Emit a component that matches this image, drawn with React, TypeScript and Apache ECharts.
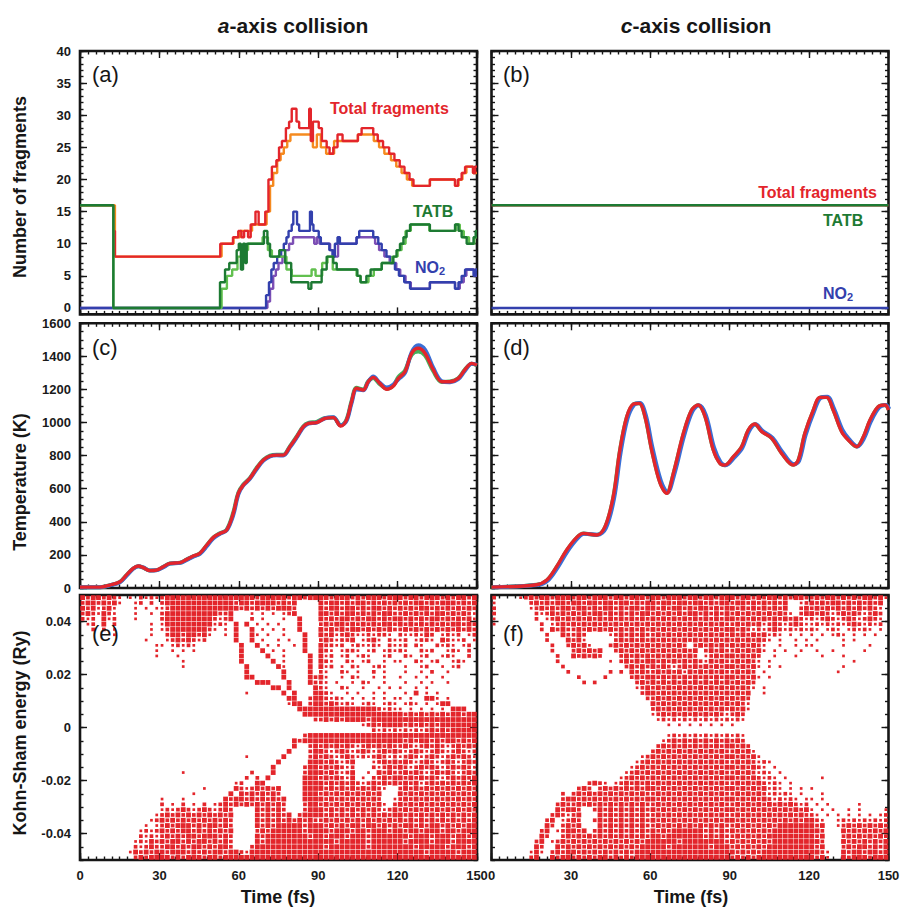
import React, { useEffect, useRef } from 'react';
import * as echarts from 'echarts';

const FONT = '"Liberation Sans", Arial, Helvetica, sans-serif';

// ---------- Panel (a): fragment counts, a-axis collision ([time fs, count], step "end") ----------
const totalRedA = [[0,16],[12.6,12],[13.2,8],[53,10],[57.8,11],[59.8,12],[61,11],[62,12],[63.5,11],[64.5,13],[66.3,15],[67.5,13],[70,15],[71.2,20],[72.5,22],[74.2,23],[75.2,25],[76.3,26],[77.8,28],[79,29],[80,31],[81.8,29],[82.8,28],[86.6,31],[87.2,26],[88,29],[90.2,28],[91.4,26],[93.2,25],[94.3,24],[95.7,25],[97.3,27],[99.2,26],[105,27],[106.4,28],[110.8,27],[112.5,26],[114.5,25],[116.8,24],[118.8,23],[120.8,22],[122.6,21],[124.5,20],[126,19],[132.2,20],[141.7,19],[142.8,20],[144.2,21],[145.5,22],[148.5,21],[149.3,22],[150,22]];
const totalOrangeA = [[0,16],[13.2,8],[53.5,10],[58,11],[60.5,12],[65,13],[70.5,15],[71.8,19],[73,21],[74.5,23],[75.8,24],[77,25],[78.3,26],[79.5,27],[88,25],[89.5,27],[91,25],[93,24],[96,26],[105,27],[111,26],[113,25],[115,24],[117.5,23],[119.5,22],[121.5,21],[123.5,20],[125.5,19],[132.2,20],[141.7,19],[143,20],[144.5,21],[146,22],[148.5,21],[150,21]];
const tatbDarkA = [[0,16],[12.6,0],[52.9,4],[54.8,6],[56.4,7],[59.2,9],[60,10],[60.8,6],[61.6,10],[62.4,7],[63,10],[69.5,12],[70.8,10],[71.8,8],[75.3,9],[77.5,7],[79.8,4],[86.3,3],[87.4,4],[91.3,6],[93.2,8],[95.7,7],[97,6],[104.8,5],[106,4],[108.2,5],[109.8,6],[114,7],[118.4,8],[119.6,9],[120.9,10],[122.2,11],[123.4,12],[124.7,13],[132.2,12],[141.7,13],[143,12],[144.2,11],[146.1,10],[148.7,11],[149.5,12],[150,12]];
const tatbLightA = [[0,16],[12.6,0],[53.5,3],[55.5,5],[57.5,6],[59.5,8],[61,9],[63.5,10],[69,11],[71,9],[72.5,8],[76,8],[78,6],[80,5],[87.5,6],[89,5],[91.5,7],[93.5,8],[95.5,6],[104.5,5],[106,4],[109,5],[111,6],[114,7],[118,8],[120,9],[121.5,10],[123,12],[125,13],[132,12],[142,13],[143.5,12],[145,11],[147,10],[149,11],[150,11]];
const no2BlueA = [[0,0],[70.3,2],[71.4,4],[72.3,6],[73.2,7],[74.5,8],[76,9],[77,10],[78,11],[78.8,12],[80,13],[80.6,15],[82,13],[82.8,12],[86.9,15],[87.6,13],[88.2,12],[90.2,11],[91,10],[94.2,9],[95.4,8],[96.3,10],[97.3,11],[98.2,10],[104.5,11],[105.5,12],[110.8,11],[112.7,10],[114,9],[115.8,8],[117.5,7],[119,6],[120.5,5],[122.5,4],[124.7,3],[132.2,4],[141.7,3],[143,4],[144.2,5],[145.5,6],[148.7,5],[149.5,6],[150,6]];
const no2PurpleA = [[0,0],[70.8,1],[71.8,3],[73,5],[74,6],[75,7],[76.5,8],[77.5,9],[79,10],[80.5,11],[88.5,10],[89.5,11],[90.5,10],[94.5,9],[96,8],[97.5,10],[104.5,11],[111.5,10],[113,9],[115,8],[117,7],[119.5,6],[121,5],[123,4],[125,3],[132.2,4],[141.7,3],[143.5,4],[145,5],[146,6],[149,5],[150,5]];

// ---------- Panel (b): c-axis collision ----------
const totalB = [[0,16],[150,16]];
const tatbB = [[0,16],[150,16]];
const no2B = [[0,0],[150,0]];

// ---------- Panel (c): temperature, a-axis ----------
const timeC = [0,7.6,11.3,15.1,17.6,20.1,22,23.9,26.4,28.9,31.5,34,37.8,40.3,42.8,45.3,47.9,50.4,52.9,55.4,57.9,59.8,61.7,64.2,66.7,69.3,71.8,74.3,76.8,79.3,81.9,84.4,86.3,89.4,92.6,95.7,98.5,100.7,102.6,104.5,107,108.9,110.8,113.3,115.9,118.4,120.3,122.8,125.3,127.8,130.4,133.5,136.7,139.8,142.9,145.4,148,150];
const tempRedC = [5,5,18,38,79,119,133,123,105,108,129,149,153,173,193,210,260,306,330,350,451,572,622,663,723,773,798,803,803,854,914,975,995,1000,1025,1030,979,1015,1126,1207,1197,1247,1273,1237,1201,1221,1267,1307,1418,1449,1418,1318,1247,1247,1267,1318,1358,1348];
const tempBlueC = [5,5,16,35,75,116,132,124,106,107,126,147,152,170,190,206,252,300,328,348,440,565,620,660,718,770,796,802,801,850,910,972,994,1000,1026,1032,983,1010,1118,1200,1195,1245,1278,1240,1212,1230,1262,1300,1425,1468,1440,1330,1250,1244,1262,1312,1355,1350];
const tempGreenC = [5,5,17,37,78,118,132,123,106,108,128,148,153,172,192,209,258,305,331,352,455,575,625,665,725,775,800,806,805,856,916,978,998,1004,1028,1030,984,1018,1130,1210,1200,1250,1270,1232,1205,1225,1275,1315,1410,1430,1405,1310,1245,1248,1268,1320,1356,1346];

// ---------- Panel (d): temperature, c-axis ----------
const timeD = [0,17,20.9,24.6,28.4,32.2,34.7,39.7,42.9,46,48.5,51.1,53.6,55.8,58,60.5,63.7,66.2,68.7,72.5,75.6,78.1,80.7,83.8,86.3,88.2,91.4,94.5,97,99.5,102.1,105.9,109.6,114,115.9,118.4,121.6,124.1,126.6,129.1,132.3,134.8,138,140.5,143,146.1,148.7,150];
const tempRedD = [5,20,48,129,230,306,330,320,371,552,834,1035,1112,1116,1035,834,633,572,693,935,1076,1106,1035,834,753,743,794,854,955,991,945,905,814,743,773,935,1076,1152,1152,1076,945,895,854,914,1015,1096,1106,1076];
const tempBlueD = [5,18,44,122,222,300,328,322,362,540,820,1025,1108,1118,1045,850,648,578,684,922,1068,1104,1045,848,760,742,788,848,948,990,950,908,822,748,768,925,1068,1150,1156,1084,955,900,856,906,1005,1090,1106,1082];
const tempGreenD = [5,19,46,126,226,303,329,321,367,546,828,1030,1110,1117,1040,842,640,575,688,928,1072,1105,1040,840,756,742,791,851,951,990,948,906,818,745,770,930,1072,1151,1154,1080,950,898,855,910,1010,1093,1106,1079];

// ---------- Panels (e), (f): Kohn-Sham eigenvalue map ----------
// one row per 0.002 Ry (0.05 at top .. -0.05 at bottom), one char per 2 fs (0..150);
// groups of 15 chars = 30 fs.  '#' dense, 'o' medium, ':' sparse, '.' empty
const ksMapE = [
"#o##o#o:.:.o:o:|o##############|###o#####o##o##|##o###o#o###o##|#o##o###o#o##o#",
"o##o#o#:..:o.o.|o#############o|##o####o#o#....|#o##o#o##o#o#o#|o#o##o#o###o#o#",
"#o#:o#:...:.:.:|:o#############|o#o#o#o###o....|#o##o##o#o##o#o|#o#o##o#o#o#o#o",
"o#o:#o:...:..:.|o##########oo#.|..:.:.:.:o#....|##o#o##o#o#o##o|o#o#o#o##o#o#o:",
"o:o.#:o...:....|o#########o:o#.|..o.:...:..#...|#o#o##o#o##o#o#|#o#o#o##o#o#o#:",
".:o.#.o......:.|:#########:o:.#|.#.:.:.:...#...|o#o##o#o#o#o##o|#o#o#o#o#o##o#o",
"..o.o.:......:.|:o#######o:.:.#|..#.:.:.:..#...|#o#o#o##o#o#o#o|o#o#o#o#o#o#o#o",
"......:......:.|.o##o##o#:..:.#|..#:.:..:...#..|#o#:o#o::o:oo:.|o::o:#o.:o:o.:o",
"............:..|.:o#o#o:o.....#|..#.:..:.:..#..|o#o:oo#.:o#:.o:|:o.:oo:.#o::o.:",
"..............:|:.:o:o:........|#..#.:.:..:.#..|#oo:o.:o::o:.o:|:o.o:..o:o:.:o.",
"..............:|..:.:.:........|#...#.:.:...#..|#o:.:oo:.:o.:o:|o:..o:o..:o:.o.",
"..............:|...:...........|#....#..:....#.|#:o.:o.:o:..:o.|.o:.:o..:o:..o.",
"...............|....:..........|#.....#.:....#.|#o:..o:.:o..:.:|:..o:.:o..:o:..",
"...............|....:..........|.#.....#:....#.|#:o.:.o:..:o:..|.:..:o..:.:o...",
"...............|...............|.#......#....#.|o:..o:.:..o.:..|.:..:.o..:.....",
"...............|...............|.##.....#....#o|#:..:.o:..:.:..|:..:.:..:......",
"...............|...............|...###...#...#o|o:.:..:.o:..:..|.:..:.:..:.....",
"...............|...............|......##.#....#|o:..o:..:..:.:.|:..:.:.........",
"...............|...............|.:......#.#...#|#o:..:.:..:.:..|.:.#.:.:.......",
"...............|...............|.........##..o#|#o:o:.:.:.:.:.:|:.:..##:.:.....",
"...............|...............|.........:##.o#|#o#o:o:.:o:.:o:|.:o:.:.:##.....",
"...............|...............|...........####|###########o:o:|:.:.:.:.:.###..",
"...............|...............|............###|###############|#o#o#o#o#o##o##",
"...............|...............|..............o|o#o#o####o#####|###############",
"...............|...............|...............|........:o#o###|#o#o#o#o#######",
"...............|...............|...............|..........o:o:o|:o:o:o#o#o#####",
"...............|...............|............o##|###############|###############",
"...............|...............|..........#o###|###############|#o#o##o#o##o#o#",
"...............|...............|..........#..o#|o#o#o#o:o#o#o#o|o#o:o#o#o:o#o#o",
"...............|...............|.........#...o#|#o:o#o:o#o:o#o#|o:o#o:o#o:o#o:o",
"...............|...............|.:......#....o#|o#o:o#o:o:o#o:o|:o#o:o#o:o#o#o:",
"...............|...............|.......#.....##|#o#o:o#...:o#o#|o#o:o#o:o#o:o#o",
"...............|...............|......#.....o##|o#o#o:o...o:o#o|#o:o#o#o:o#o#o:",
"...............|....:..........|..o...#.....o##|#o#o:o#..:.#o#o|o#o#o:o#o#o:o#o",
"...............|...............|.o.o.#......###|o#o#o:#.:.oo#o#|#o#o#o#o:o#o#o#",
"...............|..............:|o..##.......###|#o#o#o#o:o#o#o#|o#o#:o#o#o#o#o#",
"...............|........:.....#|o:o#o#o#....###|#o#o#o#o#o#o:..|o#o#o#o#o#o#o#o",
"...............|......:......#.|#o#o#o#o....###|o#o#o#o#o#o#...|#o#o#o#o#o#o#o#",
"...............|:...:.......#o#|#o#o#o#o#...###|#o#o#o#o#o#o..:|o#o#o#o#o#o#o#o",
"...............|o.:.o.:.o.:o#o#|o#o#o#o#o...o##|o#o#o#o#o#o#:.o|#o#o#o#o#o#o#o#",
"...............|:o:o#o:o#o:o#o.|...#o#o#o...o##|#o#o#o#o#o#o:o#|o#o#o#o#o#o#o#o",
"..............:|o#o#o#o#o#o#o#.|...#o#o#o#.o###|#o#o#o#o#o#o#o#|#o#o#o#o#o#o#o#",
".............:o|#o#o#o#o#o#o#o.|...#o#o#o#o#o#o|o#o#o#o#o#o#o#o|#o#o#o#o#o#o#o#",
"............:.:|o#o###o#o##o#o.|...#o#o#####o##|#o#o#o##o##o#o#|o##o#o##o#o#o##",
"...........:o:o|#o#o##o#o#o#o#.|...o#o######o##|##o###o##o###o#|#o##o###o##o###",
"...........o:o:|o#o#o##o###o#o.|...#o########o#|#o###o###o#####|##o###o###o##o#",
"..........:o:#o|#o##o#o##o#o#o.|...#o##########|###o#####o#####|#o####o###o####",
"..........o:o#o|o##o#o##o#o##o.|..o############|#o#######o#####|###o#####o###o#",
".........:#o#o#|#o###o#o#o##o##|o:#############|###############|#####o#####o###",
"..........o#o##|##o#o###o##o###|###############|###############|###############",
];

const ksMapF = [
"o....:o#o##o###|o##o###o##o###o|##o###o##o##o##|#o##o#o##o#o##o|o#o##o#o#o##o#:",
":......o#o#o##o|##o##o##o##o#o#|#o##o##o##o#o##|o##o#o#o#o#..:o|#o#o##o#o#o#o#.",
"o......:o#o#o##|o##o#o##o#o##o#|#o#o##o#o##o#o#|#o#o#o#o#o#..o#|o#o#o#o#o#o#o:.",
"o.......o:o#o#o|#o#o##o#o#o#o##|o#o#o#o##o#o#o#|o#o#o#o#o#o:.o#|#o#o:o#o#o:o#o.",
":.......o.:o#o#|o#o#o#o#o#o#o#o|#o#o#o#o#o#o#o#|#o#o#o#o#o#o#o:|o:o#o:o#o:o#o:.",
":........o.:o#o|#o#o#o#o#o#o#o#|o#o#o#o#o#o#o#o|o#o#o#:o#o:o#o:|:o:o:o:o#o:o:o.",
".........o.#o#o|o#o#o#o#o#o#o#o|#o#o#o#o#o#o#o#|#o#o:o:o#o:o:o:|o:.:o:.:o:o:.:.",
"..........o..#o|o#o....:o#o#o#o|o#o#o#o#o#o#o#o|#o#o#o#:o:.:.:.|:.:.:o:.:.:.:..",
"..........o...#|o#:.....o#o#o#o|#o#o#o#o#o#o#o#|o#o#o#o:.:..:.:|.:....:.:......",
"...........o..o|#o#:...o#o#o#o#|o#o#o#o.o#o#o#o|#o#o#o:..:..:.:|:.....:....:...",
"...........o...|o#o#o#..o#o#o#o|#o#o#o#o#.o#o#o|o#o#o#:.:.:..:.|.:..:.....:....",
"............o..|#o#o#o...o#o#o#|o#o#o#o#o.:o#o#|#o#o#o..:...:..|..:...:........",
"............o..|.......:.o#o#o#|#o#o#o#o#o:#o#o|o#o#o:.:.......|........:......",
".............o.|..........o#o#o|#o#o:o#o#o#o#o#|#o#o#:.:.:.....|......:........",
"..............o|.......o.o.#o#o|o#o#o#:#o#o#o#o|o#o#o.:........|.....:.........",
"...............|.o....o....o#o#|#o#o#o#o#o#o#o#|#o#o#:.:.......|...............",
"...............|..o.o.......o#o|#o#o#o#o#o#o#o#|o#o#o..........|...............",
"...............|............:o#|o#o#o#o#o#o#o#o|#o#o:.:........|...............",
"...............|.............o#|#o#o#o#o#o#o#o#|o#o#..:........|...............",
"...............|..............o|o#o#o#o#o#o#o#o|#o#o...........|...............",
"...............|...............|#o#o#o#o#o#o#o#|o#o:...........|...............",
"...............|...............|o#o#o#o#o#o#o#o|#o#:...........|...............",
"...............|...............|:o#o#o#o#o#o#o:|o#o............|...............",
"...............|...............|.:o:o:o:o:o:o:o|:o:............|...............",
"...............|...............|...:.:.:.:.:.:.|:..............|...............",
"...............|...............|...............|...............|...............",
"...............|...............|...:o:o:o:o:o:o|:o:............|...............",
"...............|...............|..:o#o#o#o#o#o#|o#o............|...............",
"...............|...............|.o#o#o#o#o#o#o#|#o#o...........|...............",
"...............|...............|o#o#o#o#o#o#o#o|o#o#:..........|...............",
"...............|.............:o|#o#o#o#o#o#o#o#|#o#o#:.........|...............",
"...............|............:o#|o#o#o#o#o#o#o#o|o#o#o:o:.......|...............",
"...............|...........:o#o|#o#o#o#o#o#o#o#|#o#o#o:.:......|...............",
"...............|..........:o#o#|o#o#o#o#o#o#o#o|o#o#o:o:.:.....|...............",
"...............|.........:o#o#o|#o#o#o#o#o#o#o#|#o#o#o:o:.:....|..:............",
"...............|...o#o:.:o#o#o#|o#o#o#o#o#o#o#o|o#o#o#o:o:.:...|...............",
"...............|.o#o.o#o#o#o#o#|#o#o#o#o#o#o#o#|#o#o#o#:o:.:.:.|:..............",
".............o.|o#o#o#o#o#o#o#o|o#o#o#o#o#o#o#o|o#o#o#o:o:o:.:.|..:............",
".............o#|#o#o#o#o#o#o#o#|#o#o#o#o#o#o#o#|#o#o#o#o:o:o:.:|:.:............",
"............o#o|o#o#o#o#o#o#o#o|o#o#o#o#o#o#o#o|o#o#o#o#o#o#o:o|.:.:.....:.....",
"............#o#|#o..o#o#o#o#o#o|#o#o#o#o#o#o#o#|#o#o#o#o#o#o#o#|:.:.:..:.:....:",
"...........o#o:|o#...#o#o#o#o#o|o#o#o#o#o#o#o#o|o#o#o#o#o#o#o#o|o:.:.:.:.:.:.:o",
"..........o#.:o|#o..o#o#o#o#o#o|#o#o#o#o#o#o#o#|#o#o#o#o#o#o#o#|#o:..:o:o:o:o:o",
"..........#o.o#|o#...#o#o#o#o#o|o#o#o#o#o#o#o#o|o#o#o#o#o######|#o#..:o#o#o#o#o",
".........o#.:o#|#o#.o#o#o#o#o#o|#o#o######o#o#o|#o#o#o#o#######|##o...#o#o#o#o#",
".........#o..o#|o#o#o#o#o#o#o#o|##o#######o#o#o|o#o#o#o########|#o#...o#o#o#o#o",
"........o#.:o#o|#o#o#o#o#o#o#o#|#####o########o|#o#o#o#o#######|##o...#o#o#o#o#",
"........#o..#o#|o#o#o#o#o#o#o##|###o#######o###|o#o#o#o########|#o#...o#o##o#o#",
".......:#:.o#o#|#o#o#o#o#o#o###|###############|#o#o#o#########|##o:..#o##o##o#",
".......o#..#o##|o#o#o##o#o#o###|###############|o#o#o##########|#o#:..#o###o###",
];

// ---------- tick labels ----------
const timeTicks = [0, 30, 60, 90, 120, 150];
const fragTicks = [0, 5, 10, 15, 20, 25, 30, 35, 40];
const tempTicks = [0, 200, 400, 600, 800, 1000, 1200, 1400, 1600];
const ksTicks = [-0.04, -0.02, 0, 0.02, 0.04];

const RED = '#e3252b';
const ORANGE = '#f58a1f';
const DKGREEN = '#1d7a33';
const LTGREEN = '#62c04f';
const BLUE = '#3340ad';
const PURPLE = '#7d4fb5';
const TBLUE = '#3a6fd6';
const TGREEN = '#45b05a';
const INK = '#161616';

function range(a: number, b: number, s: number) {
  const out: number[] = [];
  const n = Math.round((b - a) / s);
  for (let k = 0; k <= n; k++) out.push(+(a + k * s).toFixed(6));
  return out;
}

function parseMap(rows: string[]) {
  const dense: number[][] = [];
  const mid: number[][] = [];
  const sparse: number[][] = [];
  rows.forEach((row, i) => {
    const groups = row.split('|').map((g) => (g + '...............').slice(0, 15));
    const r = groups.join('');
    const e = +(0.049 - 0.002 * i).toFixed(4);
    for (let j = 0; j < r.length; j++) {
      const t = 2 * j + 1;
      const c = r[j];
      if (c === '#') dense.push([t, e]);
      else if (c === 'o') mid.push([t, e]);
      else if (c === ':') sparse.push([t, e]);
    }
  });
  return { dense, mid, sparse };
}

function buildOption() {
  const W = 397;
  const panels = [
    { left: 80, top: 51, height: 263.4, yMin: -1, yMax: 40, major: fragTicks, minor: range(-1, 40, 1), yLab: true, xLab: false, fmt: (v: number) => String(v) },
    { left: 491.5, top: 51, height: 263.4, yMin: -1, yMax: 40, major: fragTicks, minor: range(-1, 40, 1), yLab: false, xLab: false, fmt: (v: number) => String(v) },
    { left: 80, top: 323.3, height: 264.7, yMin: 0, yMax: 1600, major: tempTicks, minor: range(0, 1600, 50), yLab: true, xLab: false, fmt: (v: number) => String(v) },
    { left: 491.5, top: 323.3, height: 264.7, yMin: 0, yMax: 1600, major: tempTicks, minor: range(0, 1600, 50), yLab: false, xLab: false, fmt: (v: number) => String(v) },
    { left: 80, top: 595, height: 265, yMin: -0.05, yMax: 0.05, major: ksTicks, minor: range(-0.05, 0.05, 0.005), yLab: true, xLab: true, fmt: (v: number) => (Math.abs(v) < 1e-9 ? '0' : v.toFixed(2)) },
    { left: 491.5, top: 595, height: 265, yMin: -0.05, yMax: 0.05, major: ksTicks, minor: range(-0.05, 0.05, 0.005), yLab: false, xLab: true, fmt: (v: number) => (Math.abs(v) < 1e-9 ? '0' : v.toFixed(2)) },
  ];
  const minorT = range(0, 150, 3);
  const tickLine = { color: INK, width: 1.4 };
  const labelStyle = { color: '#1a1a1a', fontSize: 13, fontWeight: 'bold', fontFamily: FONT };

  const grid: any[] = [];
  const xAxis: any[] = [];
  const yAxis: any[] = [];
  panels.forEach((p, k) => {
    grid.push({ left: p.left, top: p.top, width: W, height: p.height, show: true, borderColor: INK, borderWidth: 2.6, backgroundColor: 'rgba(0,0,0,0)', outerBoundsMode: 'none', containLabel: false });
    (['bottom', 'top'] as const).forEach((pos) => {
      [true, false].forEach((isMajor) => {
        xAxis.push({
          gridIndex: k, type: 'value', min: 0, max: 150, position: pos,
          axisLine: { show: false, onZero: false },
          splitLine: { show: false },
          axisTick: { show: true, inside: true, length: isMajor ? 7 : 3.5, lineStyle: tickLine, customValues: isMajor ? timeTicks : minorT },
          axisLabel: { show: p.xLab && pos === 'bottom' && isMajor, customValues: timeTicks, margin: 9, ...labelStyle },
        });
      });
    });
    (['left', 'right'] as const).forEach((pos) => {
      [true, false].forEach((isMajor) => {
        yAxis.push({
          gridIndex: k, type: 'value', min: p.yMin, max: p.yMax, position: pos,
          axisLine: { show: false, onZero: false },
          splitLine: { show: false },
          axisTick: { show: true, inside: true, length: isMajor ? 7 : 3.5, lineStyle: tickLine, customValues: isMajor ? p.major : p.minor },
          axisLabel: { show: p.yLab && pos === 'left' && isMajor, customValues: p.major, margin: 9, formatter: p.fmt, ...labelStyle },
        });
      });
    });
  });

  const series: any[] = [];
  const step = (k: number, data: number[][], color: string, width: number, z: number) =>
    series.push({ type: 'line', step: 'end', xAxisIndex: 4 * k, yAxisIndex: 4 * k, data, showSymbol: false, symbol: 'none', lineStyle: { color, width }, itemStyle: { color }, z, silent: true });
  step(0, totalOrangeA, ORANGE, 2.4, 2);
  step(0, totalRedA, RED, 2.4, 3);
  step(0, no2PurpleA, PURPLE, 2.4, 4);
  step(0, no2BlueA, BLUE, 2.4, 5);
  step(0, tatbLightA, LTGREEN, 2.4, 6);
  step(0, tatbDarkA, DKGREEN, 2.4, 7);
  step(1, totalB, RED, 2.4, 3);
  step(1, no2B, BLUE, 2.4, 5);
  step(1, tatbB, DKGREEN, 2.4, 7);

  const curve = (k: number, times: number[], vals: number[], color: string, width: number, z: number) =>
    series.push({ type: 'line', xAxisIndex: 4 * k, yAxisIndex: 4 * k, data: times.map((t, i) => [t, vals[i]]), smooth: 0.35, showSymbol: false, symbol: 'none', lineStyle: { color, width }, itemStyle: { color }, z, silent: true });
  curve(2, timeC, tempGreenC, TGREEN, 4, 2);
  curve(2, timeC, tempBlueC, TBLUE, 4, 3);
  curve(2, timeC, tempRedC, RED, 3.4, 4);
  curve(3, timeD, tempGreenD, TGREEN, 4, 2);
  curve(3, timeD.map((t) => t + 0.3), tempBlueD, TBLUE, 4, 3);
  curve(3, timeD, tempRedD, RED, 3.4, 4);

  const scat = (k: number, map: string[]) => {
    const m = parseMap(map);
    const add = (data: number[][], size: number) =>
      series.push({ type: 'scatter', xAxisIndex: 4 * k, yAxisIndex: 4 * k, data, symbol: 'rect', symbolSize: size, itemStyle: { color: RED, opacity: 1 }, silent: true, large: false, z: 2 });
    add(m.sparse, 2.7);
    add(m.mid, 3.7);
    add(m.dense, 4.8);
  };
  scat(4, ksMapE);
  scat(5, ksMapF);

  const text = (x: number, y: number, s: string, o: any = {}) => ({
    type: 'text', x, y, rotation: o.rotation || 0, z: 100, silent: true,
    style: {
      text: s, x: 0, y: 0, fill: o.fill || INK,
      fontSize: o.size || 18, fontWeight: o.weight || 'bold', fontStyle: o.style || 'normal', fontFamily: FONT,
      textAlign: o.align || 'center', align: o.align || 'center',
      textVerticalAlign: 'middle', verticalAlign: 'middle',
    },
  });

  const graphic: any[] = [
    text(229.5, 25, 'a', { size: 21, style: 'italic', align: 'right' }),
    text(229.5, 25, '-axis collision', { size: 21, align: 'left' }),
    text(632.5, 25, 'c', { size: 21, style: 'italic', align: 'right' }),
    text(632.5, 25, '-axis collision', { size: 21, align: 'left' }),
    text(20, 187, 'Number of fragments', { rotation: Math.PI / 2 }),
    text(20, 482, 'Temperature (K)', { rotation: Math.PI / 2 }),
    text(20, 733, 'Kohn-Sham energy (Ry)', { rotation: Math.PI / 2 }),
    text(278, 897, 'Time (fs)'),
    text(691, 897, 'Time (fs)'),
    text(92, 74, '(a)', { size: 22, weight: 'normal', align: 'left' }),
    text(503, 74, '(b)', { size: 22, weight: 'normal', align: 'left' }),
    text(92, 347, '(c)', { size: 22, weight: 'normal', align: 'left' }),
    text(503, 347, '(d)', { size: 22, weight: 'normal', align: 'left' }),
    text(92, 633, '(e)', { size: 22, weight: 'normal', align: 'left' }),
    text(503, 633, '(f)', { size: 22, weight: 'normal', align: 'left' }),
    text(330, 108, 'Total fragments', { size: 16, fill: RED, align: 'left' }),
    text(413, 211, 'TATB', { size: 16, fill: DKGREEN, align: 'left' }),
    text(415, 267, 'NO', { size: 16, fill: BLUE, align: 'left' }),
    text(439, 271, '2', { size: 11, fill: BLUE, align: 'left' }),
    text(877, 192, 'Total fragments', { size: 16, fill: RED, align: 'right' }),
    text(823, 220, 'TATB', { size: 16, fill: DKGREEN, align: 'left' }),
    text(823, 293, 'NO', { size: 16, fill: BLUE, align: 'left' }),
    text(847, 297, '2', { size: 11, fill: BLUE, align: 'left' }),
  ];

  return { animation: false, backgroundColor: '#ffffff', grid, xAxis, yAxis, series, graphic };
}

export default function App() {
  const ref = useRef<HTMLDivElement>(null);
  useEffect(() => {
    if (!ref.current) return;
    const chart = echarts.init(ref.current, null, { renderer: 'svg' });
    chart.setOption(buildOption() as any);
    return () => chart.dispose();
  }, []);
  return <div ref={ref} style={{ position: 'fixed', left: 0, top: 0, width: 900, height: 907, background: '#fff' }} />;
}
